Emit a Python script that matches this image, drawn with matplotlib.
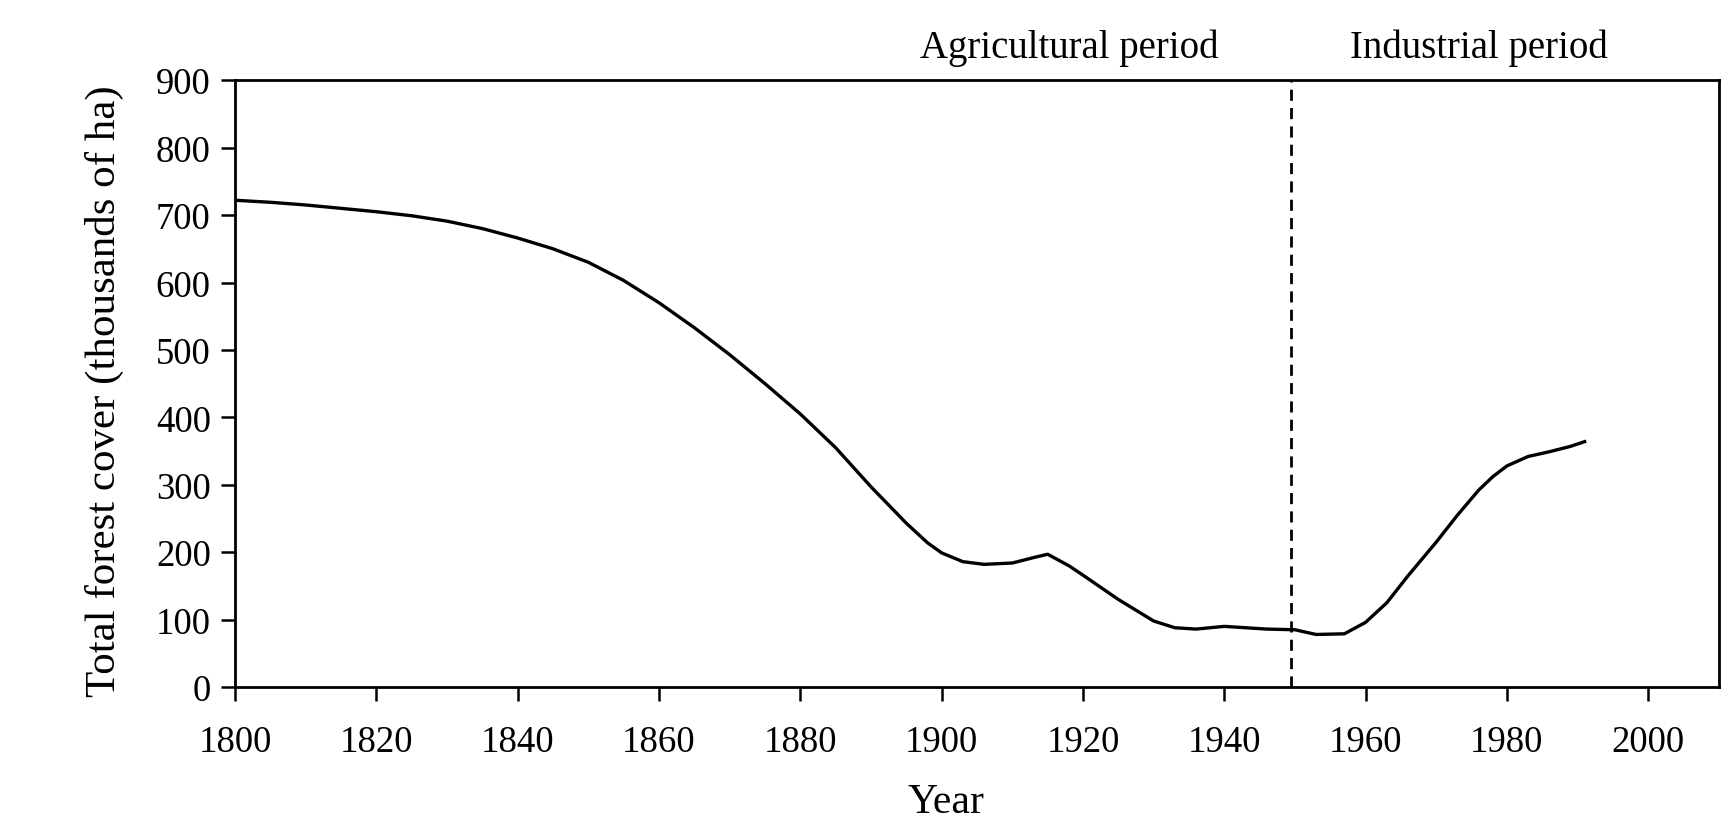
import matplotlib.pyplot as plt

# --- Data (forest cover, thousands of ha) ---
years = [1800, 1805, 1810, 1815, 1820, 1825, 1830, 1835, 1840, 1845, 1850, 1855,
         1860, 1865, 1870, 1875, 1880, 1885, 1890, 1895, 1898, 1900, 1903, 1906,
         1910, 1913, 1915, 1918, 1920, 1925, 1930, 1933, 1936, 1940, 1943, 1946,
         1950, 1953, 1957, 1960, 1963, 1966, 1970, 1973, 1976, 1978, 1980, 1983,
         1986, 1989, 1991]
forest = [722, 719, 715, 710, 705, 699, 691, 680, 666, 650, 630, 603,
          570, 533, 493, 450, 405, 355, 297, 243, 214, 199, 186, 182,
          184, 192, 197, 180, 166, 130, 98, 88, 86, 90, 88, 86,
          85, 78, 79, 96, 125, 165, 215, 255, 292, 312, 328, 342,
          349, 357, 364]

boundary_year = 1949.5
period_labels = ["Agricultural period", "Industrial period"]
period_label_x = [1918, 1976]

x_ticks = list(range(1800, 2001, 20))
y_ticks = list(range(0, 901, 100))

plt.rcParams['font.family'] = ['Liberation Serif', 'DejaVu Serif']

fig = plt.figure(figsize=(17.31, 8.29), dpi=100)
ax = fig.add_axes([0.1358, 0.170, 0.8572, 0.732])

ax.plot(years, forest, color='black', linewidth=2.4)
ax.axvline(boundary_year, color='black', linestyle=(0, (4, 2.6)), linewidth=2)

# period labels sit just above the top spine
for label, xpos in zip(period_labels, period_label_x):
    ax.text(xpos, 1.038, label, transform=ax.get_xaxis_transform(),
            ha='center', va='baseline', fontsize=28)

ax.set_xlim(1800, 2010)
ax.set_ylim(0, 900)
ax.set_xticks(x_ticks)
ax.set_yticks(y_ticks)
ax.tick_params(axis='both', direction='out', length=10, width=1.8,
               labelsize=26.5, color='black')
ax.tick_params(axis='x', pad=17)
ax.tick_params(axis='y', pad=7.5)

for spine in ax.spines.values():
    spine.set_linewidth(2)

ax.set_xlabel("Year", fontsize=30, va='top')
ax.xaxis.set_label_coords(0.479, -0.158)
ax.set_ylabel("Total forest cover (thousands of ha)", fontsize=31)
ax.yaxis.set_label_coords(-0.075, 0.49)

fig.savefig("out.png", dpi=100)
plt.close(fig)
